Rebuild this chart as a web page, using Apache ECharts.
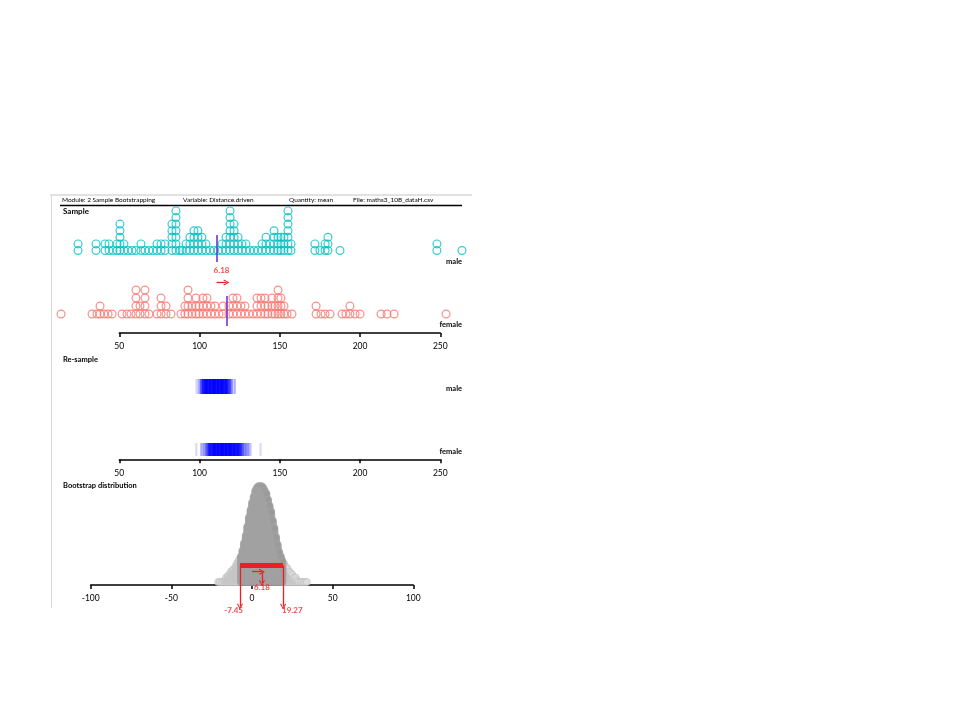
<!DOCTYPE html>
<html>
<head>
<meta charset="utf-8">
<script src="https://cdn.jsdelivr.net/npm/echarts/dist/echarts.min.js"></script>
<style>html,body{margin:0;padding:0;background:#fff}#c{width:960px;height:720px}</style>
</head>
<body>
<div id="c"></div>
<script>
// ---------------- data ----------------
const headerTexts = ['Module: 2 Sample Bootstrapping', 'Variable: Distance.driven', 'Quantity: mean', 'File: maths3_10B_dataH.csv'];
const panelTitles = ['Sample', 'Re-sample', 'Bootstrap distribution'];
const groups = ['male', 'female'];
const sampleTicks = [50, 250, 50];      // min, max, step
const bootTicks = [-100, 100, 50];      // min, max, step

// Distance driven (sample), repeated values stack up
const maleValues = [
  24.3, 24.3, 35.5, 35.5, 41.1, 41.1, 43.6, 43.6, 46.1, 48.6, 48.6,
  50.4, 50.4, 50.4, 50.4, 50.4, 52.9, 52.9, 55.4, 57.9, 60.4, 63.5, 63.5,
  66.0, 68.5, 71.0, 73.5, 73.5, 76.0, 76.0, 78.5, 78.5,
  82.8, 82.8, 82.8, 82.8, 82.8, 85.3, 85.3, 85.3, 85.3, 85.3, 85.3, 85.3,
  87.8, 89.1, 91.6, 91.6, 94.0, 94.0, 94.0, 96.5, 96.5, 96.5, 96.5,
  99.0, 99.0, 99.0, 99.0, 101.5, 101.5, 101.5, 104.0, 104.0, 106.5, 109.0,
  111.5, 114.0, 114.0, 116.5, 116.5, 116.5,
  119.0, 119.0, 119.0, 119.0, 119.0, 119.0, 119.0, 121.5, 121.5, 121.5, 121.5, 121.5,
  124.0, 124.0, 124.0, 126.4, 126.4, 128.9, 128.9, 131.4, 133.9, 136.4, 138.9, 138.9,
  141.4, 141.4, 141.4, 143.9, 143.9, 146.4, 146.4, 146.4, 146.4, 148.9, 148.9, 148.9,
  150.7, 150.7, 150.7, 152.6, 152.6, 152.6,
  155.1, 155.1, 155.1, 155.1, 155.1, 155.1, 155.1, 157.0, 157.0,
  171.9, 171.9, 175.0, 178.2, 178.2, 180.0, 180.0, 180.0, 187.5, 247.9, 247.9, 263.5
];
const femaleValues = [
  13.7, 33.0, 36.1, 38.0, 38.0, 40.5, 43.0, 45.5, 51.7, 54.8, 57.3,
  60.4, 60.4, 60.4, 60.4, 62.9, 62.9, 66.0, 66.0, 66.0, 66.0, 68.5, 73.5,
  76.0, 76.0, 76.0, 79.1, 79.1, 82.2, 88.4, 90.9, 90.9, 92.8, 92.8, 92.8, 92.8,
  95.3, 95.3, 97.8, 97.8, 97.8, 99.7, 99.7, 102.1, 102.1, 102.1, 104.6, 104.6, 104.6,
  107.1, 107.1, 109.6, 109.6, 112.1, 114.6, 114.6, 118.3, 118.3, 120.8, 120.8, 120.8,
  123.3, 123.3, 123.3, 125.8, 125.8, 128.3, 128.3, 130.8, 133.3, 135.8, 135.8, 135.8,
  138.3, 138.3, 138.3, 140.8, 140.8, 140.8, 142.6, 142.6, 145.1, 145.1, 145.1, 147.0, 147.0,
  148.9, 148.9, 148.9, 148.9, 150.7, 150.7, 150.7, 152.6, 152.6, 154.5, 157.6,
  172.6, 172.6, 175.7, 178.2, 181.3, 188.8, 191.2, 193.7, 193.7, 196.9, 200.0,
  213.1, 216.8, 221.2, 253.6
];
const maleMean = 110.6;
const femaleMean = 116.78;
const diffLabel = '6.18';

// Re-sample means: value (1-unit bins) -> number of re-samples with that mean
const maleResampleMeans  = [98, 99, 100, 101, 102, 103, 104, 105, 106, 107, 108, 109, 110, 111, 112, 113, 114, 115, 116, 117, 118, 119, 120, 121, 122];
const maleResampleCounts = [ 1,  1,   3,   6,  14,  18,  20,  22,  22,  24,  24,  25,  25,  24,  24,  23,  22,  20,  19,  16,  10,   6,   4,   1,   2];
const femaleResampleMeans  = [98, 101, 102, 103, 104, 105, 106, 107, 108, 109, 110, 111, 112, 113, 114, 115, 116, 117, 118, 119, 120, 121, 122, 123, 124, 125, 126, 127, 128, 129, 130, 131, 132, 138];
const femaleResampleCounts = [ 1,   2,   2,   3,   4,   8,  14,  16,  18,  20,  22,  22,  23,  24,  24,  24,  24,  23,  22,  22,  21,  20,  18,  16,  15,  13,   9,   5,   4,   3,   3,   2,   1,   1];

// Bootstrap distribution of differences (female - male): value -> number of stacked dots
const bootDiffs = [-21, -20, -19, -18, -17, -16, -15, -14, -13, -12, -11, -10, -9, -8, -7, -6, -5, -4, -3, -2, -1,
  0, 1, 2, 3, 4, 5, 6, 7, 8, 9, 10, 11, 12, 13, 14, 15, 16, 17, 18, 19, 20, 21, 22, 23, 24, 25, 26, 27, 28, 29,
  30, 31, 32, 33, 34];
const bootCounts = [1, 1, 1, 1, 2, 4, 5, 6, 8, 9, 10, 12, 14, 16, 18, 22, 27, 32, 38, 44, 49,
  54, 58, 62, 64, 65, 65, 65, 64, 62, 60, 56, 52, 48, 42, 37, 31, 26, 21, 18, 15, 13, 11, 10, 8, 7, 6, 4, 4, 2, 1,
  1, 1, 1, 1, 1];
const ciLow = -7.45;
const ciHigh = 19.27;
const observedDiff = 6.18;

// ---------------- chart ----------------
const FONT = 'Lato';
const RED = '#f01e1e';
const PURPLE = '#7433d6';
const TEAL = '#00BFC4';
const SALMON = '#F8766D';
const ARROW = 'path://M5,0 L10,9 L8.4,9.6 L5,3 L1.6,9.6 L0,9 Z';
const RESAMPLE_ALPHA = 0.15;

function stackDots(vals) {
  const seen = new Map();
  return vals.map(v => { const n = seen.get(v) || 0; seen.set(v, n + 1); return [v, n]; });
}
function resampleItems(vals, counts, y) {
  return vals.map((v, i) => ({
    value: [v, y],
    itemStyle: { opacity: 1 - Math.pow(1 - RESAMPLE_ALPHA, counts[i]) }
  }));
}
const bootIn = [], bootOut = [];
bootDiffs.forEach((d, i) => {
  for (let k = 0; k < bootCounts[i]; k++) (d >= ciLow && d <= ciHigh ? bootIn : bootOut).push([d, k]);
});

const axisVisible = {
  type: 'value',
  axisLine: { lineStyle: { color: '#000', width: 1.5 } },
  axisTick: { length: 4, lineStyle: { color: '#000', width: 1.5 } },
  axisLabel: { fontFamily: FONT, fontSize: 8.5, color: '#000', margin: 9 },
  splitLine: { show: false }
};
const axisHidden = { type: 'value', show: false, splitLine: { show: false } };

const chart = echarts.init(document.getElementById('c'));

const option = {
  animation: false,
  backgroundColor: '#fff',
  textStyle: { fontFamily: FONT },
  grid: [
    { left: 119.3, width: 321, top: 205, height: 128 },     // 0 sample axis / annotations
    { left: 39.05, width: 481.5, top: 184.5, height: 66 },  // 1 male dots
    { left: 39.05, width: 481.5, top: 234, height: 80 },    // 2 female dots
    { left: 119.3, width: 321, top: 359.3, height: 100 },   // 3 re-sample
    { left: 90.7, width: 322.6, top: 480, height: 135 },    // 4 bootstrap annotations
    { left: 90.7, width: 322.6, top: 432, height: 150 },    // 5 bootstrap dots
    { left: 90.7, width: 322.6, top: 480, height: 105 }     // 6 bootstrap axis
  ],
  xAxis: [
    Object.assign({}, axisVisible, { gridIndex: 0, min: sampleTicks[0], max: sampleTicks[1], interval: sampleTicks[2] }),
    Object.assign({}, axisHidden, { gridIndex: 1, min: 0, max: 300 }),
    Object.assign({}, axisHidden, { gridIndex: 2, min: 0, max: 300 }),
    Object.assign({}, axisVisible, { gridIndex: 3, min: sampleTicks[0], max: sampleTicks[1], interval: sampleTicks[2] }),
    Object.assign({}, axisHidden, { gridIndex: 4, min: bootTicks[0], max: bootTicks[1] }),
    Object.assign({}, axisHidden, { gridIndex: 5, min: bootTicks[0], max: bootTicks[1] }),
    Object.assign({}, axisVisible, { gridIndex: 6, min: bootTicks[0], max: bootTicks[1], interval: bootTicks[2] })
  ],
  yAxis: [
    Object.assign({}, axisHidden, { gridIndex: 0, min: 0, max: 128 }),
    Object.assign({}, axisHidden, { gridIndex: 1, min: 0, max: 10 }),
    Object.assign({}, axisHidden, { gridIndex: 2, min: 0, max: 10 }),
    Object.assign({}, axisHidden, { gridIndex: 3, min: 0, max: 100 }),
    Object.assign({}, axisHidden, { gridIndex: 4, min: -30, max: 105 }),
    Object.assign({}, axisHidden, { gridIndex: 5, min: 0, max: 100 }),
    Object.assign({}, axisHidden, { gridIndex: 6, min: 0, max: 1 })
  ],
  series: [
    {
      name: groups[0], type: 'scatter', xAxisIndex: 1, yAxisIndex: 1, clip: false, silent: true,
      data: stackDots(maleValues), symbol: 'circle', symbolSize: 7.8,
      itemStyle: { color: 'rgba(255,255,255,0)', borderColor: TEAL, borderWidth: 1.2 }
    },
    {
      name: groups[1], type: 'scatter', xAxisIndex: 2, yAxisIndex: 2, clip: false, silent: true,
      data: stackDots(femaleValues), symbol: 'circle', symbolSize: 7.8,
      itemStyle: { color: 'rgba(255,255,255,0)', borderColor: SALMON, borderWidth: 1.2 }
    },
    {
      name: 'sampleAnnot', type: 'scatter', xAxisIndex: 0, yAxisIndex: 0, clip: false, silent: true,
      data: [[(maleMean + femaleMean) / 2, 63]], symbolSize: 0, z: 5,
      label: { show: true, position: 'inside', formatter: diffLabel, color: RED, fontSize: 8, fontFamily: FONT, fontWeight: 'bold' },
      markLine: {
        silent: true, animation: false, symbol: ['none', ARROW], symbolSize: [6, 6],
        label: { show: false },
        data: [
          [{ coord: [maleMean, 98], symbol: 'none', lineStyle: { color: PURPLE, width: 1.6, type: 'solid' } }, { coord: [maleMean, 71], symbol: 'none' }],
          [{ coord: [femaleMean, 37], symbol: 'none', lineStyle: { color: PURPLE, width: 1.6, type: 'solid' } }, { coord: [femaleMean, 7], symbol: 'none' }],
          [{ coord: [maleMean, 50.5], symbol: 'none', lineStyle: { color: RED, width: 1.3, type: 'solid' } }, { coord: [femaleMean, 50.5] }]
        ]
      }
    },
    {
      name: 'maleResample', type: 'scatter', xAxisIndex: 3, yAxisIndex: 3, clip: false, silent: true,
      data: resampleItems(maleResampleMeans, maleResampleCounts, 72.8), symbol: 'rect', symbolSize: [2.1, 15],
      itemStyle: { color: '#0000ff' }
    },
    {
      name: 'femaleResample', type: 'scatter', xAxisIndex: 3, yAxisIndex: 3, clip: false, silent: true,
      data: resampleItems(femaleResampleMeans, femaleResampleCounts, 9.8), symbol: 'rect', symbolSize: [2.1, 13],
      itemStyle: { color: '#0000ff' }
    },
    {
      name: 'bootOut', type: 'scatter', xAxisIndex: 5, yAxisIndex: 5, clip: false, silent: true,
      data: bootOut, symbol: 'circle', symbolSize: 7,
      itemStyle: { color: '#dcdcdc', borderColor: '#bdbdbd', borderWidth: 0.8 }
    },
    {
      name: 'bootIn', type: 'scatter', xAxisIndex: 5, yAxisIndex: 5, clip: false, silent: true,
      data: bootIn, symbol: 'circle', symbolSize: 7,
      itemStyle: { color: '#9a9a9a', borderColor: '#a8a8a8', borderWidth: 0.6 }
    },
    {
      name: 'ci', type: 'line', xAxisIndex: 4, yAxisIndex: 4, silent: true, z: 6,
      data: [[ciLow, 19.5], [ciHigh, 19.5]], showSymbol: false, symbol: 'none',
      lineStyle: { color: RED, width: 5, cap: 'butt' },
      markLine: {
        silent: true, animation: false, symbol: ['none', ARROW], symbolSize: [6, 6],
        label: { show: false },
        lineStyle: { color: RED, width: 1.3, type: 'solid' },
        data: [
          [{ coord: [ciLow, 19.5] }, { coord: [ciLow, -21.5] }],
          [{ coord: [ciHigh, 19.5] }, { coord: [ciHigh, -21.5] }],
          [{ coord: [0, 13.3] }, { coord: [observedDiff, 13.3] }],
          [{ coord: [observedDiff, 13.3] }, { coord: [observedDiff, 2] }]
        ]
      }
    },
    {
      name: 'bootLabels', type: 'scatter', xAxisIndex: 4, yAxisIndex: 4, clip: false, silent: true, z: 7,
      symbolSize: 0,
      label: { show: true, position: 'inside', color: RED, fontSize: 8, fontFamily: FONT, fontWeight: 'bold' },
      data: [
        { value: [ciLow, -25], label: { formatter: ciLow.toFixed(2), align: 'right', offset: [3, 0] } },
        { value: [ciHigh, -25], label: { formatter: ciHigh.toFixed(2), align: 'left', offset: [-1, 0] } },
        { value: [observedDiff, -2], label: { formatter: diffLabel } }
      ]
    }
  ],
  graphic: [
    { type: 'line', shape: { x1: 50, y1: 195, x2: 472, y2: 195 }, style: { stroke: '#c4c4c4', lineWidth: 1 }, silent: true },
    { type: 'line', shape: { x1: 51.5, y1: 195, x2: 51.5, y2: 608 }, style: { stroke: '#d8d8d8', lineWidth: 1 }, silent: true },
    { type: 'line', shape: { x1: 60, y1: 205.5, x2: 462, y2: 205.5 }, style: { stroke: '#000', lineWidth: 1.5 }, silent: true },
    { type: 'text', x: 62, y: 200, style: { text: headerTexts[0], font: '6.5px Lato', fill: '#000', verticalAlign: 'middle' } },
    { type: 'text', x: 183, y: 200, style: { text: headerTexts[1], font: '6.5px Lato', fill: '#000', verticalAlign: 'middle' } },
    { type: 'text', x: 289, y: 200, style: { text: headerTexts[2], font: '6.5px Lato', fill: '#000', verticalAlign: 'middle' } },
    { type: 'text', x: 353, y: 200, style: { text: headerTexts[3], font: '6.5px Lato', fill: '#000', verticalAlign: 'middle' } },
    { type: 'text', x: 63, y: 211, style: { text: panelTitles[0], font: 'bold 8px Lato', fill: '#000', verticalAlign: 'middle' } },
    { type: 'text', x: 63, y: 360, style: { text: panelTitles[1], font: 'bold 7.5px Lato', fill: '#000', verticalAlign: 'middle' } },
    { type: 'text', x: 63, y: 486, style: { text: panelTitles[2], font: 'bold 7.5px Lato', fill: '#000', verticalAlign: 'middle' } },
    { type: 'text', x: 462, y: 262, style: { text: groups[0], font: 'bold 7.5px Lato', fill: '#000', align: 'right', verticalAlign: 'middle' } },
    { type: 'text', x: 462, y: 325, style: { text: groups[1], font: 'bold 7.5px Lato', fill: '#000', align: 'right', verticalAlign: 'middle' } },
    { type: 'text', x: 462, y: 389, style: { text: groups[0], font: 'bold 7.5px Lato', fill: '#000', align: 'right', verticalAlign: 'middle' } },
    { type: 'text', x: 462, y: 452, style: { text: groups[1], font: 'bold 7.5px Lato', fill: '#000', align: 'right', verticalAlign: 'middle' } }
  ]
};
chart.setOption(option);
</script>
</body>
</html>
